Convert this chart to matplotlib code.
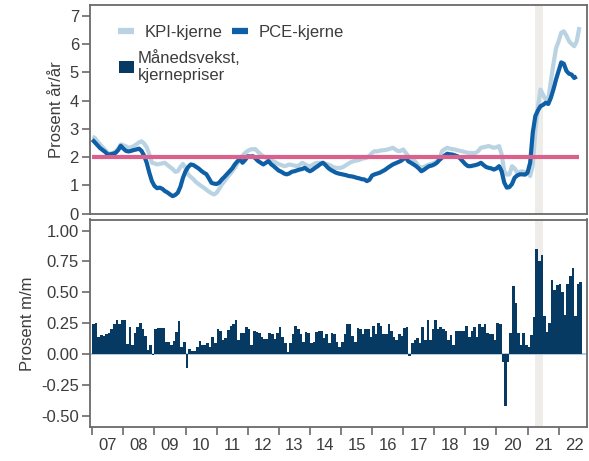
import numpy as np
import pandas as pd
import matplotlib
matplotlib.use('Agg')
import matplotlib.pyplot as plt
from matplotlib.patches import Patch
from matplotlib.lines import Line2D
from matplotlib.ticker import FixedLocator, FuncFormatter, NullFormatter

plt.rcParams['font.family'] = ['Liberation Sans', 'DejaVu Sans']

# ---------------- data ----------------
start_month = '2007-01'

kpi_kjerne = [
    2.72, 2.68, 2.55, 2.45, 2.35, 2.25, 2.15, 2.12, 2.15, 2.2, 2.3, 2.45,
    2.42, 2.38, 2.33, 2.35, 2.39, 2.45, 2.52, 2.56, 2.48, 2.35, 2.1, 1.8,
    1.78, 1.74, 1.76, 1.78, 1.8, 1.72, 1.65, 1.58, 1.48, 1.5, 1.65, 1.76,
    1.6, 1.39, 1.3, 1.22, 1.12, 1.05, 0.98, 0.92, 0.85, 0.78, 0.72, 0.68,
    0.74, 0.88, 1.03, 1.15, 1.27, 1.38, 1.5, 1.62, 1.78, 1.93, 2.05, 2.15,
    2.22, 2.27, 2.28, 2.28, 2.18, 2.1, 2.03, 1.98, 1.95, 1.9, 1.85, 1.8,
    1.75, 1.72, 1.68, 1.7, 1.74, 1.72, 1.7, 1.68, 1.72, 1.8, 1.75, 1.7,
    1.68, 1.72, 1.78, 1.8, 1.8, 1.8, 1.76, 1.74, 1.7, 1.65, 1.62, 1.62,
    1.62, 1.66, 1.72, 1.78, 1.83, 1.86, 1.88, 1.9, 1.94, 1.96, 1.98, 2.05,
    2.15, 2.21, 2.2, 2.23, 2.24, 2.25, 2.27, 2.3, 2.33, 2.27, 2.21, 2.22,
    2.27, 2.15, 2.03, 1.98, 1.92, 1.8, 1.68, 1.62, 1.66, 1.7, 1.74, 1.76,
    1.8, 1.85, 1.95, 2.21, 2.28, 2.33, 2.3, 2.28, 2.27, 2.24, 2.22, 2.2,
    2.17, 2.15, 2.15, 2.14, 2.15, 2.22, 2.33, 2.35, 2.37, 2.39, 2.36, 2.33,
    2.35, 2.39, 2.1, 1.5, 1.38, 1.39, 1.68, 1.6, 1.45, 1.48, 1.5, 1.47,
    1.45, 1.33, 1.7, 2.9, 3.75, 4.39, 4.2, 4.05, 4.03, 4.7, 5.3, 5.85,
    6.1, 6.4, 6.45, 6.3, 6.1, 6.0, 5.92, 6.1, 6.6,
]

pce_kjerne = [
    2.62, 2.52, 2.42, 2.32, 2.25, 2.18, 2.09, 2.1, 2.12, 2.15, 2.25, 2.4,
    2.3, 2.22, 2.2, 2.22, 2.25, 2.27, 2.3, 2.22, 2.05, 1.8, 1.45, 1.15,
    0.98, 0.9, 0.92, 0.88, 0.8, 0.75, 0.68, 0.62, 0.66, 0.74, 0.95, 1.27,
    1.5, 1.65, 1.74, 1.72, 1.66, 1.6, 1.52, 1.45, 1.4, 1.25, 1.09, 1.06,
    1.05, 1.1, 1.21, 1.3, 1.4, 1.5, 1.6, 1.74, 1.85, 1.92, 1.8, 1.9,
    2.03, 2.02, 2.03, 1.95, 1.86, 1.8, 1.74, 1.8, 1.86, 1.75, 1.68, 1.6,
    1.52, 1.48, 1.42, 1.39, 1.42, 1.48, 1.5, 1.53, 1.56, 1.58, 1.62, 1.55,
    1.5, 1.55, 1.62, 1.68, 1.75, 1.8, 1.72, 1.62, 1.55, 1.5, 1.45, 1.42,
    1.4, 1.38, 1.36, 1.33, 1.32, 1.3, 1.27, 1.25, 1.22, 1.21, 1.15, 1.2,
    1.35, 1.39, 1.42, 1.45, 1.5, 1.55, 1.62, 1.68, 1.74, 1.78, 1.82, 1.86,
    1.93, 1.98, 1.85, 1.8, 1.74, 1.68, 1.6, 1.5, 1.55, 1.62, 1.68, 1.7,
    1.74, 1.8, 1.9, 1.98, 2.05, 2.12, 2.1, 2.09, 2.06, 2.03, 1.95, 1.85,
    1.75, 1.68, 1.68, 1.7, 1.72, 1.75, 1.8, 1.72, 1.65, 1.62, 1.6, 1.56,
    1.6, 1.68, 1.5, 1.1, 0.92, 0.94, 1.05, 1.27, 1.35, 1.39, 1.39, 1.38,
    1.45, 1.8, 2.86, 3.45, 3.65, 3.8, 3.85, 3.92, 3.88, 4.1, 4.4, 4.75,
    5.05, 5.35, 5.3, 5.05, 4.95, 4.92, 4.8, 4.85,
]

maanedsvekst = [
    0.24, 0.255, 0.14, 0.155, 0.15, 0.16, 0.17, 0.20, 0.245, 0.275, 0.245, 0.28,
    0.28, 0.08, 0.22, 0.07, 0.17, 0.22, 0.25, 0.20, 0.15, 0.035, 0.07, -0.01,
    0.2, 0.21, 0.21, 0.21, 0.095, 0.095, 0.075, 0.11, 0.18, 0.265, 0.06, 0.1,
    -0.11, 0.045, 0.025, 0.025, 0.06, 0.105, 0.075, 0.07, 0.09, 0.055, 0.14, 0.09,
    0.205, 0.19, 0.115, 0.13, 0.195, 0.23, 0.24, 0.28, 0.115, 0.17, 0.17, 0.22,
    0.2, 0.075, 0.19, 0.18, 0.17, 0.14, 0.12, 0.12, 0.175, 0.16, 0.12, 0.17,
    0.22, 0.14, 0.09, 0.015, 0.09, 0.16, 0.23, 0.2, 0.16, 0.1, 0.18, 0.17,
    0.09, 0.095, 0.18, 0.19, 0.19, 0.13, 0.16, 0.09, 0.17, 0.165, 0.1, 0.06,
    0.1, 0.16, 0.245, 0.245, 0.15, 0.1, 0.21, 0.2, 0.16, 0.2, 0.2, 0.14,
    0.23, 0.16, 0.255, 0.23, 0.16, 0.165, 0.24, 0.19, 0.14, 0.115, 0.165, 0.15,
    0.21, 0.22, -0.015, 0.09, 0.115, 0.13, 0.09, 0.22, 0.115, 0.28, 0.115, 0.2,
    0.28, 0.2, 0.22, 0.2, 0.19, 0.115, 0.155, 0.07, 0.185, 0.19, 0.185, 0.19,
    0.225, 0.135, 0.19, 0.22, 0.14, 0.24, 0.22, 0.24, 0.17, 0.165, 0.165, 0.115,
    0.25, 0.245, -0.06, -0.42, -0.06, 0.175, 0.55, 0.41, 0.175, 0.07, 0.175, 0.07,
    0.055, 0.155, 0.3, 0.85, 0.75, 0.8, 0.31, 0.18, 0.25, 0.6, 0.52, 0.56,
    0.57, 0.5, 0.32, 0.57, 0.63, 0.7, 0.31, 0.57, 0.58,
]

inflasjonsmaal = 2.0
utheving = ('2021-04', '2021-06')   # highlighted months (inclusive)
aar_etiketter = ['07', '08', '09', '10', '11', '12', '13', '14',
                 '15', '16', '17', '18', '19', '20', '21', '22']
top_yticks = [0, 1, 2, 3, 4, 5, 6, 7]
bot_yticks = [-0.50, -0.25, 0.00, 0.25, 0.50, 0.75, 1.00]

# ---------------- helpers ----------------
def periods(n):
    return pd.period_range(start_month, periods=n, freq='M')

def to_x(p):
    return p.year + (p.month - 1) / 12.0

x_kpi = to_x(periods(len(kpi_kjerne)))
x_pce = to_x(periods(len(pce_kjerne)))
x_bar = to_x(periods(len(maanedsvekst)))
band0 = to_x(pd.Period(utheving[0], freq='M'))
band1 = to_x(pd.Period(utheving[1], freq='M') + 1)
first_year = int(aar_etiketter[0]) + 2000
years = [2000 + int(s) for s in aar_etiketter]

# ---------------- style ----------------
C_KPI = '#b9d3e3'
C_PCE = '#0e5fa6'
C_BAR = '#073a63'
C_TARGET = '#d9618b'
C_BAND = '#efede9'
C_SPINE = '#6a6a6a'
C_TEXT = '#3c3c3c'
C_ZERO = '#a9c0d4'
FS = 12

W, H = 589, 461
fig = plt.figure(figsize=(W / 100, H / 100), dpi=100)
ax1 = fig.add_axes([90 / W, 1 - 214.5 / H, 497 / W, 209.5 / H])
ax2 = fig.add_axes([90 / W, 1 - 427 / H, 497 / W, 207.5 / H])

xlim = (first_year - 0.074, years[-1] + 0.912)

for ax in (ax1, ax2):
    ax.axvspan(band0, band1, color=C_BAND, lw=0, zorder=0)
    ax.set_xlim(*xlim)
    for s in ax.spines.values():
        s.set_color(C_SPINE)
        s.set_linewidth(1.3)
    ax.tick_params(axis='y', direction='out', length=6, width=1.2,
                   color=C_SPINE, labelsize=FS, labelcolor=C_TEXT, pad=2)

# top panel
ax1.plot(x_kpi, kpi_kjerne, color=C_KPI, lw=3.0, zorder=2,
         solid_joinstyle='round', solid_capstyle='butt')
ax1.plot(x_pce, pce_kjerne, color=C_PCE, lw=3.0, zorder=3,
         solid_joinstyle='round', solid_capstyle='butt')
ax1.plot([x_kpi[0], x_kpi[-1]], [inflasjonsmaal, inflasjonsmaal],
         color=C_TARGET, lw=3.0, zorder=4, solid_capstyle='butt')
ax1.set_ylim(-0.03, 7.38)
ax1.yaxis.set_major_locator(FixedLocator(top_yticks))
ax1.yaxis.set_major_formatter(FuncFormatter(lambda v, p: f'{v:.0f}'))
ax1.tick_params(axis='x', bottom=False, labelbottom=False,
                which='both')
ax1.set_ylabel('Prosent år/år', fontsize=FS, color=C_TEXT, labelpad=4)

leg1 = ax1.legend(
    handles=[Line2D([], [], color=C_KPI, lw=4.5, solid_capstyle='butt'),
             Line2D([], [], color=C_PCE, lw=4.5, solid_capstyle='butt')],
    labels=['KPI-kjerne', 'PCE-kjerne'], ncol=2, frameon=False,
    loc='center left', bbox_to_anchor=(0.056, 0.871), borderaxespad=0,
    borderpad=0, handlelength=1.0, handletextpad=0.6, columnspacing=0.55,
    fontsize=FS, labelcolor=C_TEXT)
ax1.add_artist(leg1)
ax1.legend(
    handles=[Patch(facecolor=C_BAR, edgecolor='none')],
    labels=['Månedsvekst,\nkjernepriser'], frameon=False,
    loc='center left', bbox_to_anchor=(0.058, 0.705), borderaxespad=0,
    borderpad=0, handlelength=0.9, handleheight=0.8, handletextpad=0.25,
    fontsize=FS, labelcolor=C_TEXT)

# bottom panel
ax2.axhline(0, color=C_ZERO, lw=1.2, zorder=1)
ax2.bar(x_bar, maanedsvekst, width=1 / 12, align='edge', color=C_BAR,
        linewidth=0, zorder=2)
ax2.set_ylim(-0.59, 1.09)
ax2.yaxis.set_major_locator(FixedLocator(bot_yticks))
ax2.yaxis.set_major_formatter(FuncFormatter(lambda v, p: f'{v:.2f}'))
ax2.set_ylabel('Prosent m/m', fontsize=FS, color=C_TEXT, labelpad=4)

ax2.xaxis.set_major_locator(FixedLocator(years))
ax2.xaxis.set_major_formatter(NullFormatter())
ax2.xaxis.set_minor_locator(FixedLocator([y + 0.5 for y in years]))
ax2.xaxis.set_minor_formatter(FuncFormatter(
    lambda v, p: aar_etiketter[int(v - 0.5) - first_year]
    if 0 <= int(v - 0.5) - first_year < len(aar_etiketter) else ''))
ax2.tick_params(axis='x', which='major', direction='out', length=6,
                width=1.2, color=C_SPINE)
ax2.tick_params(axis='x', which='minor', length=0, pad=8,
                labelsize=FS, labelcolor=C_TEXT)

fig.savefig('out.png', dpi=100)
